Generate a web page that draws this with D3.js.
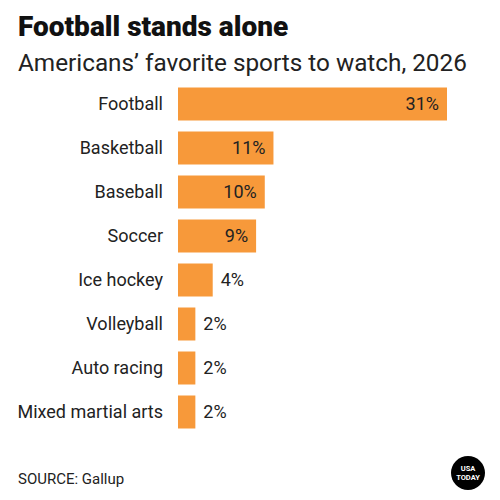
<!DOCTYPE html>
<html>
<head>
<meta charset="utf-8">
<script src="https://cdn.jsdelivr.net/npm/d3@7"></script>
<style>
  body { margin: 0; background: #fff; }
  text { font-family: Roboto, "Noto Sans", sans-serif; }
</style>
</head>
<body>
<div class="container"></div>
<script>
const sports = ['Football', 'Basketball', 'Baseball', 'Soccer', 'Ice hockey', 'Volleyball', 'Auto racing', 'Mixed martial arts'];
const shares = [31, 11, 10, 9, 4, 2, 2, 2];

const width = 500, height = 500;
const svg = d3.select('.container').append('svg')
    .attr('width', width).attr('height', height);

svg.append('text').attr('x', 18).attr('y', 36)
    .attr('font-size', 28).attr('font-weight', 900).attr('fill', '#111')
    .text('Football stands alone');
svg.append('text').attr('x', 18).attr('y', 71)
    .attr('font-size', 24.3).attr('fill', '#222')
    .text('Americans\u2019 favorite sports to watch, 2026');

const x = d3.scaleLinear().domain([0, 31]).range([178, 447]);
const y = d3.scaleBand().domain(sports).range([82, 434]).paddingInner(0.25).paddingOuter(0.125);

const data = sports.map((s, i) => ({ s, v: shares[i] }));

svg.selectAll('rect.bar').data(data).join('rect')
    .attr('class', 'bar')
    .attr('x', x(0)).attr('y', d => y(d.s))
    .attr('width', d => x(d.v) - x(0)).attr('height', y.bandwidth())
    .attr('fill', '#F7993A');

svg.selectAll('text.cat').data(data).join('text')
    .attr('class', 'cat')
    .attr('x', 163).attr('y', d => y(d.s) + y.bandwidth() / 2)
    .attr('dy', '0.35em').attr('text-anchor', 'end')
    .attr('font-size', 18).attr('fill', '#222')
    .text(d => d.s);

svg.selectAll('text.val').data(data).join('text')
    .attr('class', 'val')
    .attr('x', d => d.v >= 9 ? x(d.v) - 8 : x(d.v) + 8)
    .attr('y', d => y(d.s) + y.bandwidth() / 2)
    .attr('dy', '0.35em')
    .attr('text-anchor', d => d.v >= 9 ? 'end' : 'start')
    .attr('font-size', 18).attr('fill', '#222')
    .text(d => d.v + '%');

svg.append('text').attr('x', 18).attr('y', 484)
    .attr('font-size', 15).attr('fill', '#222')
    .text('SOURCE: Gallup');

const logo = svg.append('g').attr('transform', 'translate(468,473)');
logo.append('circle').attr('r', 17).attr('fill', '#000');
logo.append('text').attr('y', -2).attr('text-anchor', 'middle')
    .attr('font-size', 7.5).attr('font-weight', 700).attr('fill', '#fff').text('USA');
logo.append('text').attr('y', 7).attr('text-anchor', 'middle')
    .attr('font-size', 7.5).attr('font-weight', 700).attr('fill', '#fff').text('TODAY');
</script>
</body>
</html>
